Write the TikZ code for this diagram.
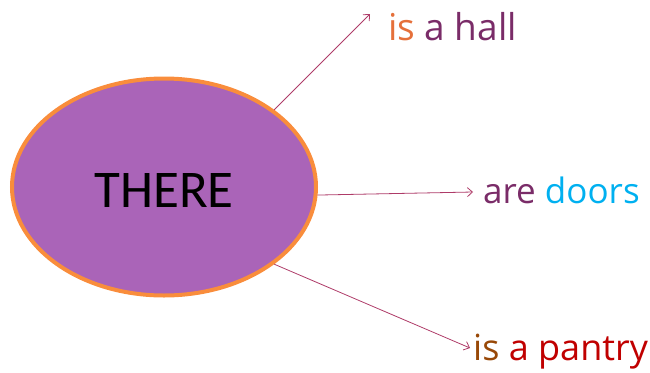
\documentclass[tikz,border=0pt]{standalone}
\usepackage{fontspec}
\setmainfont{Open Sans}
\newfontfamily\calib{Carlito}
\usetikzlibrary{shapes.geometric,arrows.meta}
\definecolor{ellfill}{HTML}{AA64B8}
\definecolor{ellline}{HTML}{F98D3C}
\definecolor{arrcol}{HTML}{AE3B68}
\definecolor{isorange}{HTML}{E5703A}
\definecolor{darkpurple}{HTML}{7A2C68}
\definecolor{doorsblue}{HTML}{00B0F0}
\definecolor{isbrown}{HTML}{984807}
\definecolor{pantryred}{HTML}{C00000}
\tikzset{
  arr/.style={draw=arrcol, line width=0.8pt, -{Straight Barb[length=5pt,width=9pt]}},
  lbl/.style={anchor=base west, inner sep=0pt, font=\fontsize{35}{40}\selectfont},
  blob/.style={ellipse, fill=ellfill, draw=ellline, line width=4pt, minimum width=304pt, minimum height=217pt, inner sep=0pt}
}
\begin{document}
\begin{tikzpicture}[x=1pt,y=-1pt]
\useasboundingbox (0,0) rectangle (650,372);
\node[blob] (there) at (164,187) {};
\node[inner sep=0pt, font=\calib\fontsize{53}{60}\selectfont] (word) at (164,190) {THERE};
\node[lbl, font=\fontsize{37}{42}\selectfont] (hall) at (388,40) {\textcolor{isorange}{is} \textcolor{darkpurple}{a hall}};
\node[lbl] (doors) at (483,203) {\textcolor{darkpurple}{are} \textcolor{doorsblue}{doors}};
\node[lbl, font=\fontsize{36}{41}\selectfont] (pantry) at (473,360) {\textcolor{isbrown}{is} \textcolor{pantryred}{a pantry}};
\coordinate (hallend) at (370,14);
\coordinate (doorsend) at (473,192);
\coordinate (pantryend) at (470,348);
\draw[arr] (there.35.5) -- (hallend);
\draw[arr] (there.-3) -- (doorsend);
\draw[arr] (there.-35.3) -- (pantryend);
\end{tikzpicture}
\end{document}
